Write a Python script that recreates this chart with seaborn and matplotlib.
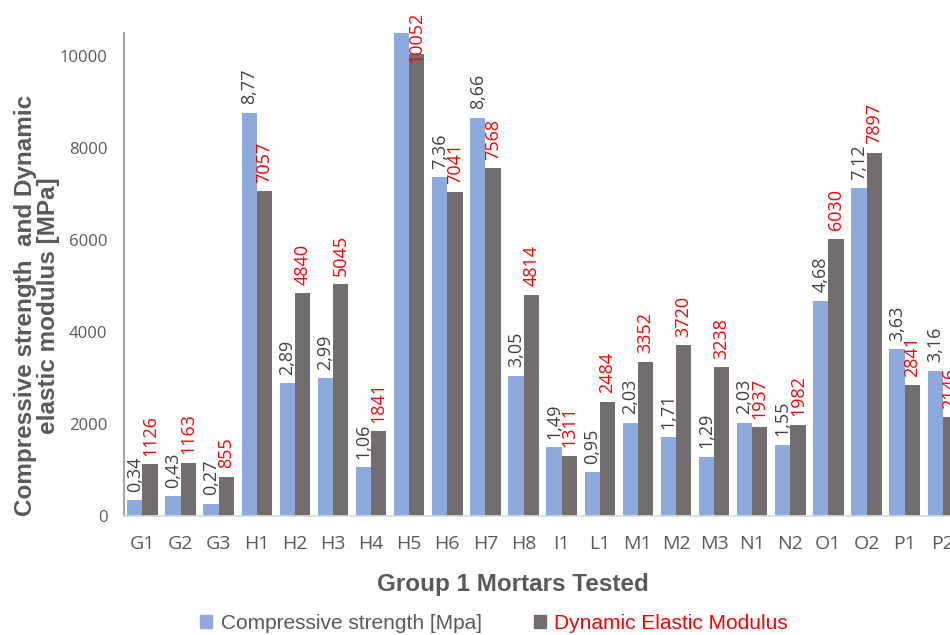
import pandas as pd
import matplotlib.pyplot as plt
import seaborn as sns

# data
mortars = ["G1", "G2", "G3", "H1", "H2", "H3", "H4", "H5", "H6", "H7", "H8",
           "I1", "L1", "M1", "M2", "M3", "N1", "N2", "O1", "O2", "P1", "P2"]
compressive = [0.34, 0.43, 0.27, 8.77, 2.89, 2.99, 1.06, 10.5, 7.36, 8.66, 3.05,
               1.49, 0.95, 2.03, 1.71, 1.29, 2.03, 1.55, 4.68, 7.12, 3.63, 3.16]
dynamic = [1126, 1163, 855, 7057, 4840, 5045, 1841, 10052, 7041, 7568, 4814,
           1311, 2484, 3352, 3720, 3238, 1937, 1982, 6030, 7897, 2841, 2146]
# compressive label for H5 is not visible in the original
hide_comp_label = ["H5"]

comp_name = "Compressive strength [Mpa]"
dyn_name = "Dynamic Elastic Modulus"

# long form table, compressive strength drawn x1000 on the same axis
df = pd.DataFrame({
    "Mortar": mortars * 2,
    "Value": [c * 1000 for c in compressive] + dynamic,
    "Series": [comp_name] * len(mortars) + [dyn_name] * len(mortars),
})

sns.set_style("white")
plt.rcParams["font.family"] = ["Open Sans", "DejaVu Sans"]

blue = "#8EA9DB"
grey = "#726E6D"
txt = "#595959"

fig = plt.figure(figsize=(9.5, 6.35), dpi=100)
ax = fig.add_axes([0.1305, 0.1874, 0.8695, 0.7606])

sns.barplot(data=df, x="Mortar", y="Value", hue="Series",
            palette=[blue, grey], width=0.8, gap=0, linewidth=0,
            saturation=1, legend=False, ax=ax)

ax.set_xlim(-0.486, 21.19)
ax.set_ylim(0, 10500)
ax.set_yticks(range(0, 10001, 2000))
ax.tick_params(axis="y", labelsize=12, colors=txt, length=0, pad=12)
ax.tick_params(axis="x", labelsize=14, colors=txt, length=0, pad=14)

for s in ["top", "right"]:
    ax.spines[s].set_visible(False)
ax.spines["left"].set_color("#a6a6a6")
ax.spines["left"].set_linewidth(1.5)
ax.spines["bottom"].set_color("#d9d9d9")
ax.spines["bottom"].set_linewidth(1.2)

# value labels, rotated like in the original
for i, m in enumerate(mortars):
    if m not in hide_comp_label:
        ax.annotate(f"{compressive[i]:.2f}".replace(".", ","),
                    (i - 0.2, compressive[i] * 1000), xytext=(0, 6),
                    textcoords="offset points", rotation=90, ha="center",
                    va="bottom", fontsize=13, color="#404040")
    if dynamic[i] > 9500:
        ax.annotate(str(dynamic[i]), (i + 0.2, 1.0), xycoords=("data", "axes fraction"),
                    xytext=(0, 15), textcoords="offset points", rotation=90,
                    ha="center", va="top", fontsize=13, color="red")
    else:
        ax.annotate(str(dynamic[i]), (i + 0.2, dynamic[i]), xytext=(0, 6),
                    textcoords="offset points", rotation=90, ha="center",
                    va="bottom", fontsize=13, color="red")

ax.set_xlabel("Group 1 Mortars Tested", fontsize=17.5, fontweight="bold",
              color=txt, family="Liberation Sans")
ax.xaxis.set_label_coords(0.471, -0.118)
ax.set_ylabel("Compressive strength  and Dynamic\nelastic modulus [MPa]",
              fontsize=17.5, fontweight="bold", color=txt,
              family="Liberation Sans", linespacing=1.0)
ax.yaxis.set_label_coords(-0.077, 0.435)

handles = [plt.Rectangle((0, 0), 1, 1, color=blue),
           plt.Rectangle((0, 0), 1, 1, color=grey)]
leg = fig.legend(handles, [comp_name, dyn_name], loc="center",
                 bbox_to_anchor=(0.52, 0.018), ncol=2, frameon=False,
                 prop={"family": "Liberation Sans", "size": 15},
                 handlelength=0.6, handleheight=0.6,
                 handletextpad=0.4, columnspacing=2.5)
leg.get_texts()[0].set_color(txt)
leg.get_texts()[1].set_color("red")

fig.savefig("out.png", dpi=100)
